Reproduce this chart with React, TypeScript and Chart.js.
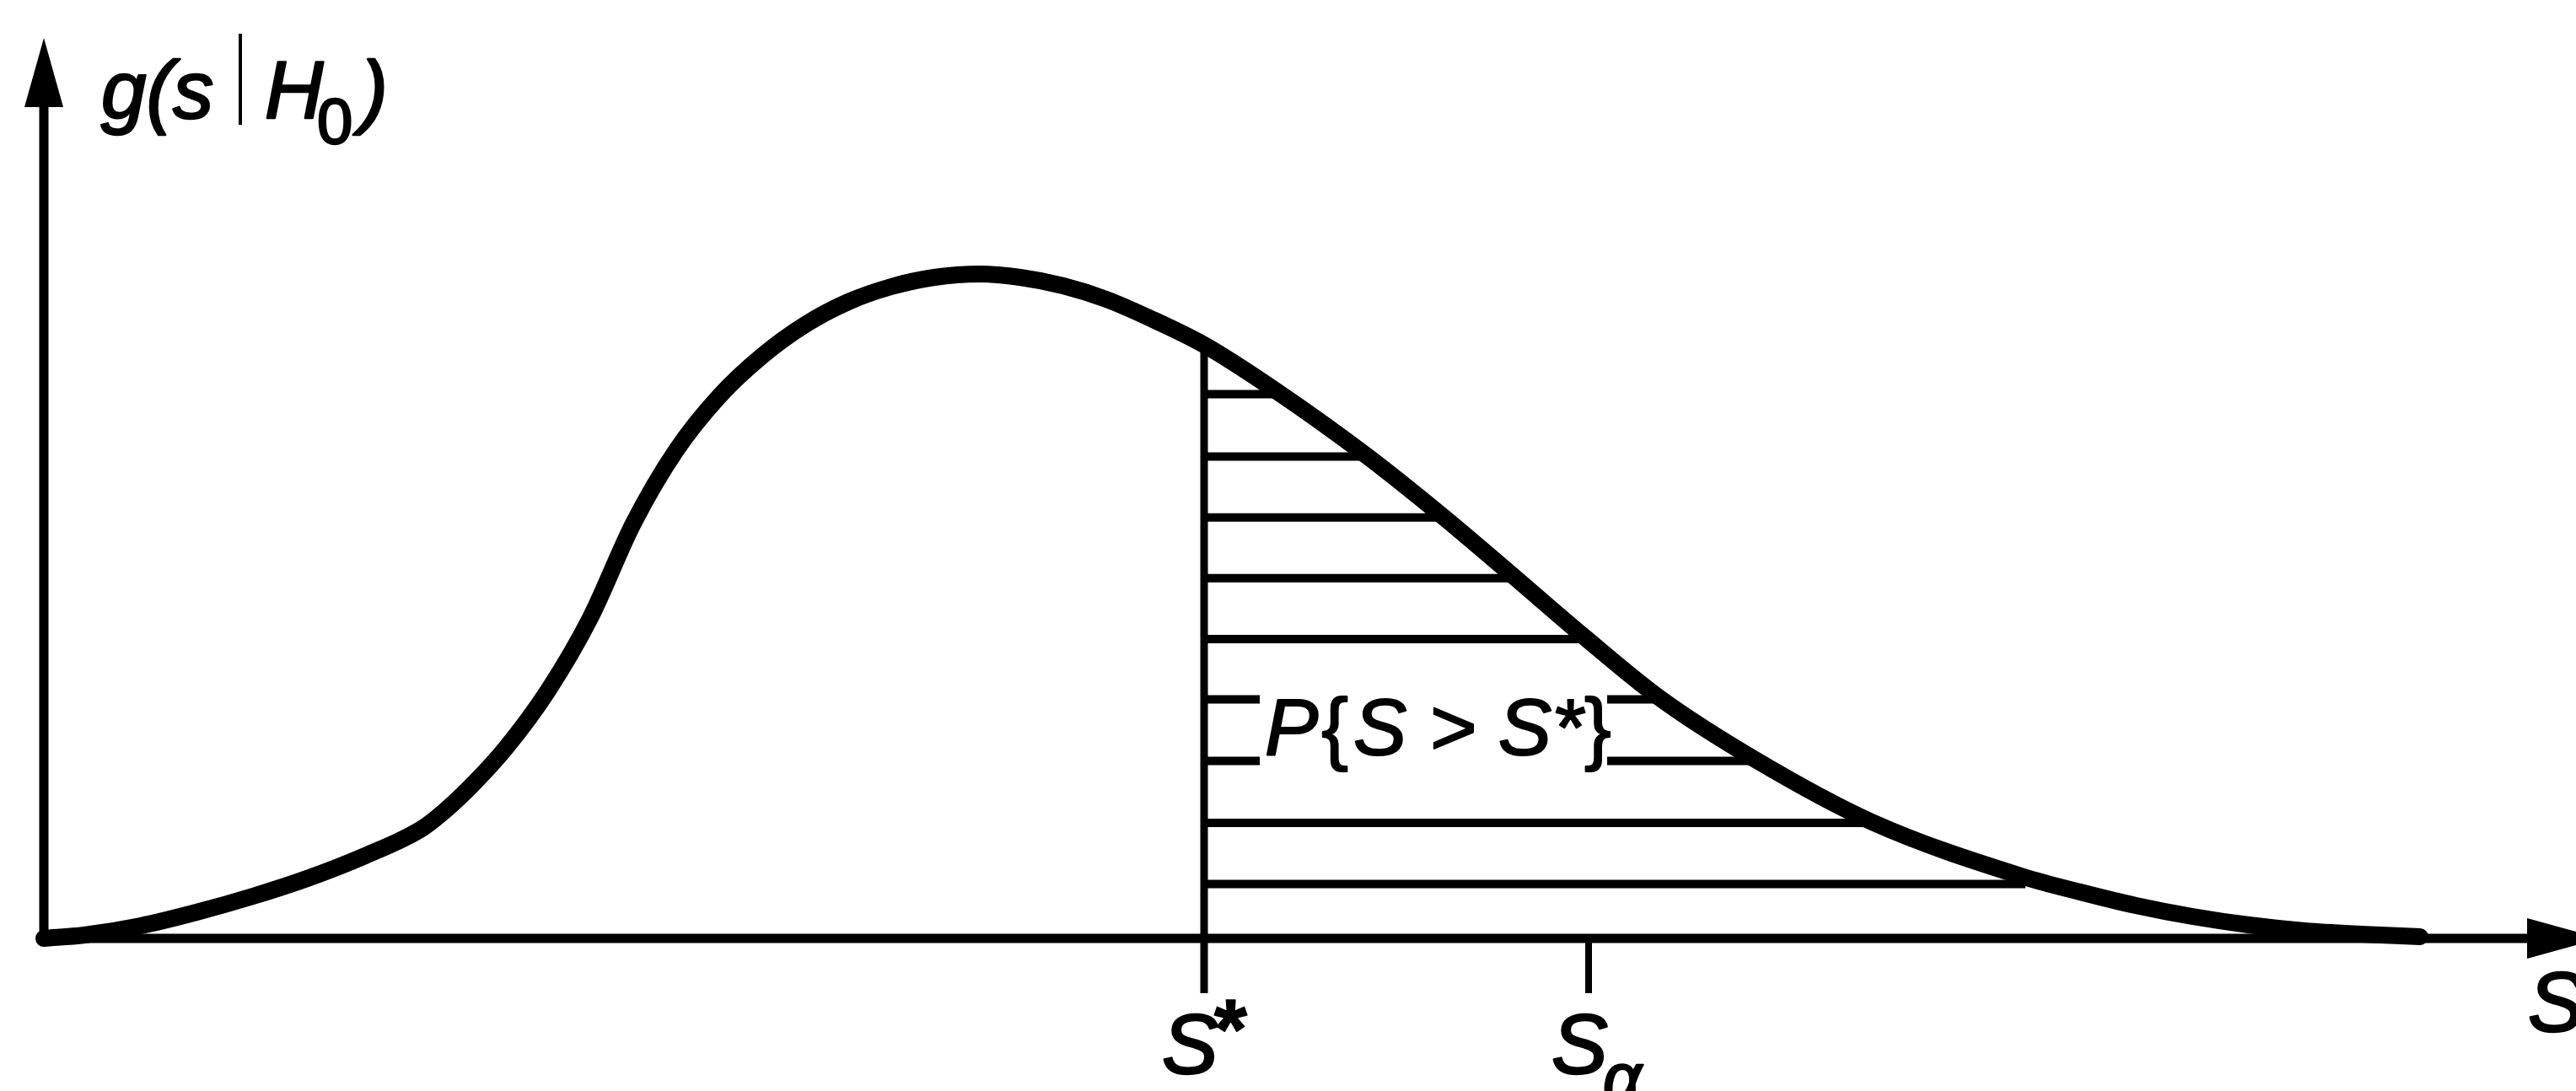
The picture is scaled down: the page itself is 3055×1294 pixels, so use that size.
import React, { useEffect, useRef } from "react";
import { Chart, registerables } from "chart.js";

Chart.register(...registerables);

const WIDTH = 3055;
const HEIGHT = 1294;

// g(s | H0): sampled points along the density curve
const CURVE_S = [
  0, 0.48, 1.15, 1.81, 2.48, 3.15, 3.81, 4.48, 4.74, 5.08, 5.48, 5.98, 6.48,
  6.99, 7.5, 8.01, 8.52, 9.03, 9.54, 10.05, 10.56, 11.1, 11.58, 12.09, 12.6,
  13.11, 13.76, 14.59, 15.68, 16.56, 17.4, 18.24, 19.15, 20.28, 21.68, 23.48,
  24.15, 24.81, 25.48, 26.15, 26.81, 27.48, 28.18,
];
const CURVE_G = [
  0, 0.04, 0.15, 0.31, 0.5, 0.72, 0.98, 1.3, 1.5, 1.82, 2.26, 2.94, 3.8,
  4.92, 5.79, 6.43, 6.91, 7.28, 7.55, 7.73, 7.84, 7.88, 7.84, 7.74, 7.58,
  7.36, 7.04, 6.51, 5.73, 5.03, 4.32, 3.6, 2.86, 2.13, 1.38, 0.73,
  0.55, 0.39, 0.26, 0.16, 0.09, 0.05, 0.02,
];

// Critical values on the s axis
const S_STAR = 13.76;
const S_ALPHA = 18.32;
const G_AT_S_STAR = 7.04;

// Horizontal hatching of P{S > S*}: stroke heights and where each meets the curve
const HATCH_G = [6.455, 5.715, 4.993, 4.272, 3.55, 2.835, 2.105, 1.37, 0.645];
const HATCH_END_S = [14.59, 15.68, 16.56, 17.4, 18.24, 19.15, 20.28, 21.68, 23.5];
// Strokes interrupted by the probability label, and the interrupted span
const HATCH_BROKEN = [5, 6];
const LABEL_GAP_S = [14.42, 18.54];

// Axis arrow tips and tick depth
const S_AXIS_END = 30.32;
const G_AXIS_END = 10.68;
const TICK_DEPTH = -0.65;

// Visible window of the two linear scales
const S_RANGE = [-0.52, 30.03];
const G_RANGE = [-1.81, 11.13];

const FONT = '"Liberation Sans", Arial, Helvetica, sans-serif';
const INK = "#000000";

type Pt = { x: number; y: number };

function segment(x1: number, y1: number, x2: number, y2: number, width: number) {
  return {
    data: [
      { x: x1, y: y1 },
      { x: x2, y: y2 },
    ] as Pt[],
    showLine: true,
    borderColor: INK,
    borderWidth: width,
    borderCapStyle: "butt" as const,
    pointRadius: 0,
    order: 5,
  };
}

// Filled text with a thin outline so the glyphs carry the heavier print weight
function inkText(ctx: CanvasRenderingContext2D, text: string, x: number, y: number, weight = 2.5) {
  ctx.fillText(text, x, y);
  ctx.lineWidth = weight;
  ctx.lineJoin = "round";
  ctx.strokeText(text, x, y);
  return ctx.measureText(text).width;
}

const axesAndLabels = {
  id: "axesAndLabels",
  beforeDatasetsDraw(chart: any) {
    const { ctx } = chart;
    const xs = chart.scales.x;
    const ys = chart.scales.y;
    const x0 = xs.getPixelForValue(0);
    const y0 = ys.getPixelForValue(0);
    const xTip = xs.getPixelForValue(S_AXIS_END);
    const yTip = ys.getPixelForValue(G_AXIS_END);
    ctx.save();
    ctx.strokeStyle = INK;
    ctx.fillStyle = INK;
    ctx.lineCap = "butt";

    // s axis with arrow
    ctx.lineWidth = 11;
    ctx.beginPath();
    ctx.moveTo(x0 - 5, y0);
    ctx.lineTo(xTip - 60, y0);
    ctx.stroke();
    ctx.beginPath();
    ctx.moveTo(xTip, y0);
    ctx.lineTo(xTip - 87, y0 - 24);
    ctx.lineTo(xTip - 87, y0 + 24);
    ctx.closePath();
    ctx.fill();

    // g axis with arrow
    ctx.beginPath();
    ctx.moveTo(x0, y0 + 5);
    ctx.lineTo(x0, yTip + 60);
    ctx.stroke();
    ctx.beginPath();
    ctx.moveTo(x0, yTip);
    ctx.lineTo(x0 - 23, yTip + 82);
    ctx.lineTo(x0 + 23, yTip + 82);
    ctx.closePath();
    ctx.fill();
    ctx.restore();
  },
  afterDatasetsDraw(chart: any) {
    const { ctx } = chart;
    const xs = chart.scales.x;
    const ys = chart.scales.y;
    const x0 = xs.getPixelForValue(0);
    const y0 = ys.getPixelForValue(0);
    const yTip = ys.getPixelForValue(G_AXIS_END);
    const pStar = xs.getPixelForValue(S_STAR);
    const pAlpha = xs.getPixelForValue(S_ALPHA);
    ctx.save();
    ctx.fillStyle = INK;
    ctx.strokeStyle = INK;
    ctx.textBaseline = "alphabetic";
    ctx.textAlign = "left";

    // g(s | H0) title beside the vertical axis
    const tBase = yTip + 95;
    const tx = x0 + 68;
    ctx.font = `italic 96px ${FONT}`;
    inkText(ctx, "g(s", tx, tBase);
    ctx.lineWidth = 4;
    ctx.beginPath();
    ctx.moveTo(tx + 165, yTip - 5);
    ctx.lineTo(tx + 165, tBase + 8);
    ctx.stroke();
    inkText(ctx, "H", tx + 194, tBase);
    ctx.font = `76px ${FONT}`;
    inkText(ctx, "0", tx + 256, tBase + 30);
    ctx.font = `italic 96px ${FONT}`;
    inkText(ctx, ")", tx + 308, tBase);

    // Labels under the s axis
    const lBase = y0 + 160;
    ctx.font = `italic 100px ${FONT}`;
    inkText(ctx, "S", pStar - 50, lBase);
    ctx.font = `bold 100px ${FONT}`;
    inkText(ctx, "*", pStar + 12, lBase - 18, 1.5);
    ctx.font = `italic 100px ${FONT}`;
    inkText(ctx, "S", pAlpha - 44, lBase);
    ctx.font = `italic 80px ${FONT}`;
    inkText(ctx, "\u03b1", pAlpha + 17, lBase + 32);
    ctx.font = `italic 100px ${FONT}`;
    inkText(ctx, "S", xs.getPixelForValue(S_AXIS_END) - 86, y0 + 110);

    // Probability label inside the hatched tail
    const gapLeft = xs.getPixelForValue(LABEL_GAP_S[0]);
    const midG = (HATCH_G[HATCH_BROKEN[0]] + HATCH_G[HATCH_BROKEN[1]]) / 2;
    const pBase = ys.getPixelForValue(midG) + 29;
    let px = gapLeft + 6;
    ctx.font = `italic 95px ${FONT}`;
    px += inkText(ctx, "P", px, pBase, 2) + 4;
    ctx.font = `95px ${FONT}`;
    px += inkText(ctx, "{", px, pBase, 2) + 6;
    ctx.font = `italic 95px ${FONT}`;
    px += inkText(ctx, "S > S*", px, pBase, 2) + 2;
    ctx.font = `95px ${FONT}`;
    inkText(ctx, "}", px, pBase, 2);
    ctx.restore();
  },
};

export default function App() {
  const canvasRef = useRef<HTMLCanvasElement | null>(null);

  useEffect(() => {
    const canvas = canvasRef.current;
    if (!canvas) return;

    const curve = {
      data: CURVE_S.map((s, i) => ({ x: s, y: CURVE_G[i] })),
      showLine: true,
      borderColor: INK,
      borderWidth: 20,
      borderCapStyle: "round" as const,
      borderJoinStyle: "round" as const,
      cubicInterpolationMode: "monotone" as const,
      pointRadius: 0,
      order: 0,
    };

    const strokes: any[] = [];
    HATCH_G.forEach((g, i) => {
      if (HATCH_BROKEN.includes(i)) {
        strokes.push(segment(S_STAR, g, LABEL_GAP_S[0], g, 10));
        strokes.push(segment(LABEL_GAP_S[1], g, HATCH_END_S[i], g, 10));
      } else {
        strokes.push(segment(S_STAR, g, HATCH_END_S[i], g, 10));
      }
    });
    strokes.push(segment(S_STAR, TICK_DEPTH, S_STAR, G_AT_S_STAR, 9));
    strokes.push(segment(S_ALPHA, 0, S_ALPHA, TICK_DEPTH, 8));

    const chart = new Chart(canvas, {
      type: "scatter",
      data: { datasets: [curve, ...strokes] },
      options: {
        animation: false,
        responsive: false,
        devicePixelRatio: 1,
        events: [],
        layout: { padding: 0 },
        plugins: {
          legend: { display: false },
          tooltip: { enabled: false },
        },
        scales: {
          x: { type: "linear", min: S_RANGE[0], max: S_RANGE[1], display: false },
          y: { type: "linear", min: G_RANGE[0], max: G_RANGE[1], display: false },
        },
      },
      plugins: [axesAndLabels],
    });

    return () => chart.destroy();
  }, []);

  return (
    <div
      style={{
        position: "fixed",
        left: 0,
        top: 0,
        width: WIDTH,
        height: HEIGHT,
        background: "#ffffff",
        overflow: "hidden",
      }}
    >
      <canvas ref={canvasRef} width={WIDTH} height={HEIGHT} style={{ display: "block" }} />
    </div>
  );
}
